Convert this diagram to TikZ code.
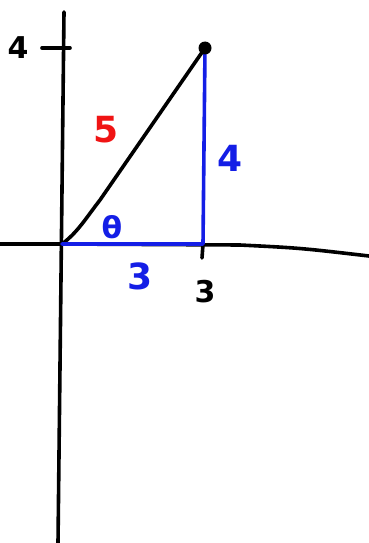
\documentclass[tikz,border=0pt]{standalone}
\usepackage{fontspec}
\setmainfont{DejaVu Sans}
\usepackage{xcolor}
\usetikzlibrary{positioning,calc}
\definecolor{penblue}{RGB}{20,30,230}
\definecolor{penred}{RGB}{240,20,20}
\tikzset{
  ink/.style={line width=3.6pt,line cap=round,line join=round},
  axis/.style={ink,black},
  leg/.style={ink,penblue},
  lbl/.style={font=\fontsize{36}{36}\selectfont\bfseries,inner sep=0pt}
}

\begin{document}
\begin{tikzpicture}[x=1pt,y=-1pt]
  \useasboundingbox (0,0) rectangle (369,543);
  % axes
  \coordinate (ytop) at (64,12);
  \coordinate (ybot) at (58,543);
  \coordinate (xleft) at (0,244);
  \coordinate (xright) at (369,256);
  \coordinate (O) at (62,244);
  \coordinate (P) at (205,48);
  \coordinate (Q) at (203,244);
  \draw[axis] (ytop) -- (ybot);
  \draw[axis] (xleft) -- (O) -- (240,245) .. controls (300,248) .. (xright);
  % ticks
  \coordinate (tk4a) at (42,48);
  \coordinate (tk4b) at (70,48);
  \draw[axis] (tk4a) -- (tk4b);
  \coordinate (tk3) at (202,258);
  \draw[axis] (Q) -- (tk3);
  \node[lbl,font=\fontsize{30}{30}\selectfont\bfseries] (ylab) at (18,48) {4};
  \node[lbl,font=\fontsize{30}{30}\selectfont\bfseries] (xlab) at (205,292) {3};
  % triangle
  \draw[axis] (O) .. controls (78,232) and (86,218) .. (100,200) -- (P);
  \draw[leg] (P) -- (Q) -- (O);
  \fill (P) circle (6.5pt);
  \node[lbl,penred] (hyp) at (106,130) {5};
  \node[lbl,penblue] (opp) at (230,158) {4};
  \node[lbl,penblue] (adj) at (140,276) {3};
  \node[lbl,penblue,font=\fontsize{30}{30}\selectfont\bfseries] (ang) at (112,227) {θ};
\end{tikzpicture}
\end{document}
